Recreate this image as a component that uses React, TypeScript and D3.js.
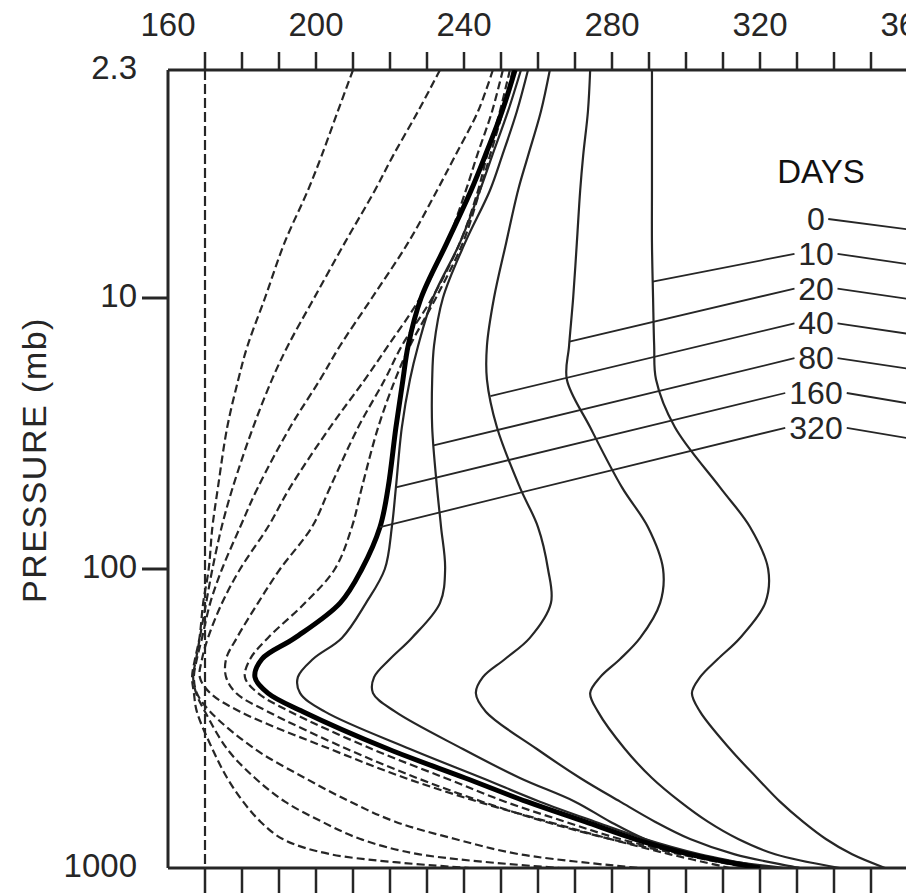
import React from 'react';
import * as d3 from 'd3';

// pressure levels (mb) at which each profile was read
const pressures = [2.3, 3, 4, 5, 7, 10, 15, 20, 30, 50, 70, 100, 130, 170, 200, 230, 260, 300, 400, 500, 600, 700, 800, 900, 1000];

// isothermal initial states (K)
const warmStartT = 360;
const coldStartT = 170;

// approach from the warm isothermal state (solid)
const warm10 = [290.8, 290.8, 290.8, 290.8, 290.8, 291.1, 291.4, 291.9, 297, 309.2, 317.3, 322.2, 321.4, 314.6, 308.6, 303.8, 301.6, 303.8, 311.9, 319.2, 325.4, 331.6, 337.8, 344.9, 353.8];
const warm20 = [274.1, 273.5, 272.2, 271.4, 270.5, 269.5, 268.4, 267.8, 274.1, 282.7, 289.7, 293.8, 293, 287.6, 282.2, 276.8, 274.1, 276.2, 283.5, 290.8, 298.4, 305.9, 314.1, 324.1, 341.6];
const warm40 = [263.2, 260.8, 257.3, 254.6, 251.4, 248.1, 246.2, 246.2, 248.9, 255.1, 260, 262.7, 263.5, 257.8, 251.1, 245.1, 243.2, 245.9, 259.7, 271.4, 282.2, 291.6, 301.1, 313.2, 330.8];
const warm80 = [257.3, 254.3, 250.3, 247, 240.3, 234.3, 231.9, 231.4, 231.4, 232.7, 233.8, 234.9, 233.5, 225.9, 220, 215.7, 215.4, 221.4, 239.7, 255.1, 270, 279.5, 288.9, 301.1, 326.8];
const warm160 = [255.4, 251.9, 247.6, 244.3, 238.9, 231.6, 227.6, 225.4, 223.2, 221.6, 220.5, 218.6, 213.5, 207, 199.2, 195.1, 195.7, 202.4, 225.4, 244.9, 260.5, 275.4, 288.9, 303.8, 322.7];
const warm320 = [253.8, 250.3, 245.7, 241.9, 235.4, 228.4, 224.9, 223.5, 221.6, 219.5, 217.3, 212.4, 206.5, 194.3, 185.4, 183.5, 187, 196.5, 219.5, 240.3, 257, 272.7, 286.2, 301.1, 320];

// approach from the cold isothermal state (dashed)
const cold10 = [210, 205.9, 201.5, 197.8, 191.5, 186.2, 181.5, 179, 176, 173.5, 172, 171, 169.5, 168.5, 167.3, 166.5, 167, 167.8, 172, 176, 180.3, 185, 191, 204, 241.6];
const cold20 = [233.5, 227.6, 220.8, 215.9, 207.8, 199.5, 192.4, 188.1, 183, 177.5, 174.5, 172, 170.3, 168.6, 167.6, 166.8, 167.6, 170, 176, 183.5, 191.6, 201.6, 212, 228, 266];
const cold40 = [247.8, 243.8, 237.6, 232.7, 224.9, 215.1, 206.5, 201.1, 193, 184.3, 179.5, 174.6, 171.4, 169.2, 167.8, 167, 167.8, 171.4, 183.5, 197, 209.2, 221.4, 237.6, 255.1, 287.6];
const cold80 = [250.5, 247.6, 243.5, 240.5, 235.4, 228.1, 219.5, 213.2, 203.8, 193, 187, 179.5, 174.6, 170.8, 169.2, 168.6, 171.4, 179.5, 203.8, 224.1, 243.8, 262.7, 279.5, 295.7, 311.9];
const cold160 = [252.4, 249.7, 246.2, 243.8, 238.9, 231.4, 223.2, 218.6, 211.4, 203.8, 198.9, 190.3, 184.3, 178.6, 175.7, 175.7, 178.4, 187, 208.4, 227.3, 244.9, 261.9, 279.5, 298.4, 317.3];
const cold320 = [253.2, 250.5, 247, 244.3, 239.7, 232.4, 225.4, 221.4, 216.8, 212.4, 209.7, 205.1, 197, 187, 182.2, 180.8, 184.3, 193, 215.1, 234.9, 251.1, 267.3, 282.2, 299.7, 318.6];

// legend: days and the pressure where each leader meets its curve
const legendDays = ['0', '10', '20', '40', '80', '160', '320'];
const legendAnchorP = [null, 9, 14.5, 23, 35, 50, 70];

// axes
const tempTickLabels = [160, 200, 240, 280, 320, 360];
const tempMinorTicks = [170, 180, 190, 200, 210, 220, 230, 240, 250, 260, 270, 280, 290, 300, 310, 320, 330, 340, 350];
const pressureTickLabels = ['2.3', '10', '100', '1000'];
const pressureTicks = [10, 100];

const W = 906;
const H = 893;
const font = '"Liberation Sans", Arial, sans-serif';
const ink = '#262626';

const x = d3.scaleLinear().domain([160, 360]).range([168, 908]);
const y = d3.scaleLog().domain([2.3, 10, 100, 1000]).range([70, 298, 569, 868]);

const line = d3
  .line<number>()
  .x((d) => x(d))
  .y((_, i) => y(pressures[i]))
  .curve(d3.curveCatmullRom.alpha(0.5));

const warmSeries = [warm10, warm20, warm40, warm80, warm160];
const coldSeries = [cold10, cold20, cold40, cold80, cold160, cold320];
const legendSeries = [null, warm10, warm20, warm40, warm80, warm160, warm320];

// temperature of a profile at pressure p, linear in log p
function tempAt(series: number[], p: number) {
  const lp = Math.log10(p);
  for (let i = 0; i < pressures.length - 1; i++) {
    const a = Math.log10(pressures[i]);
    const b = Math.log10(pressures[i + 1]);
    if (lp >= a && lp <= b) {
      const f = (lp - a) / (b - a);
      return series[i] + f * (series[i + 1] - series[i]);
    }
  }
  return series[series.length - 1];
}

export default function App() {
  const top = y(2.3);
  const bottom = y(1000);
  const left = x(160);

  const legendX = 816;
  const legendY0 = 218;
  const legendStep = 34.8;

  return (
    <svg
      width={W}
      height={H}
      style={{ position: 'absolute', left: 0, top: 0, background: '#fff' }}
      fontFamily={font}
    >
      <defs>
        <clipPath id="plot">
          <rect x={left} y={top} width={W - left} height={bottom - top} />
        </clipPath>
      </defs>

      {/* frame */}
      <line x1={left} x2={W} y1={top} y2={top} stroke={ink} strokeWidth={3} />
      <line x1={left} x2={W} y1={bottom} y2={bottom} stroke={ink} strokeWidth={3} />
      <line x1={left} x2={left} y1={top} y2={bottom} stroke={ink} strokeWidth={3} />

      {/* temperature ticks, top and bottom */}
      {tempMinorTicks.map((t) => (
        <g key={t}>
          <line x1={x(t)} x2={x(t)} y1={top} y2={top - 18} stroke={ink} strokeWidth={2.5} />
          <line x1={x(t)} x2={x(t)} y1={bottom} y2={bottom + 26} stroke={ink} strokeWidth={2.5} />
        </g>
      ))}
      {tempTickLabels.map((t) => (
        <text key={t} x={x(t)} y={36} fontSize={33} textAnchor="middle" fill={ink}>
          {t}
        </text>
      ))}

      {/* pressure ticks */}
      {pressureTicks.map((p) => (
        <line key={p} x1={left - 26} x2={left} y1={y(p)} y2={y(p)} stroke={ink} strokeWidth={3} />
      ))}
      {pressureTickLabels.map((s) => (
        <text key={s} x={137} y={y(+s) + 9} fontSize={33} textAnchor="end" fill={ink}>
          {s}
        </text>
      ))}
      <text
        transform={`translate(46,460) rotate(-90)`}
        fontSize={34}
        textAnchor="middle"
        fill={ink}
        letterSpacing={1.5}
      >
        PRESSURE (mb)
      </text>

      <g clipPath="url(#plot)" fill="none" strokeLinejoin="round">
        {/* initial isothermal states */}
        <line x1={x(coldStartT)} x2={x(coldStartT)} y1={top} y2={bottom} stroke={ink} strokeWidth={2.2} strokeDasharray="10,4" />
        <line x1={x(warmStartT)} x2={x(warmStartT)} y1={top} y2={bottom} stroke={ink} strokeWidth={2.2} />

        {coldSeries.map((s, i) => (
          <path key={'c' + i} d={line(s) || ''} stroke={ink} strokeWidth={2.2} strokeDasharray="8,4" />
        ))}
        {warmSeries.map((s, i) => (
          <path key={'w' + i} d={line(s) || ''} stroke={ink} strokeWidth={2.2} />
        ))}
        <path d={line(warm320) || ''} stroke="#000" strokeWidth={5} />
      </g>

      {/* legend */}
      <text x={821} y={183} fontSize={33} textAnchor="middle" fill="#111">
        DAYS
      </text>
      {legendDays.map((d, i) => {
        const ly = legendY0 + i * legendStep;
        const w = d.length * 18.5;
        const series = legendSeries[i];
        const p = legendAnchorP[i];
        return (
          <g key={d}>
            <text x={legendX} y={ly + 12} fontSize={32} textAnchor="middle" fill={ink}>
              {d}
            </text>
            <line
              x1={legendX + w / 2 + 3}
              y1={ly + 1}
              x2={x(warmStartT) + 4}
              y2={ly + 12}
              stroke={ink}
              strokeWidth={1.8}
            />
            {series && p && (
              <line
                x1={legendX - w / 2 - 3}
                y1={ly + 1}
                x2={x(tempAt(series, p))}
                y2={y(p)}
                stroke={ink}
                strokeWidth={1.8}
              />
            )}
          </g>
        );
      })}
    </svg>
  );
}
